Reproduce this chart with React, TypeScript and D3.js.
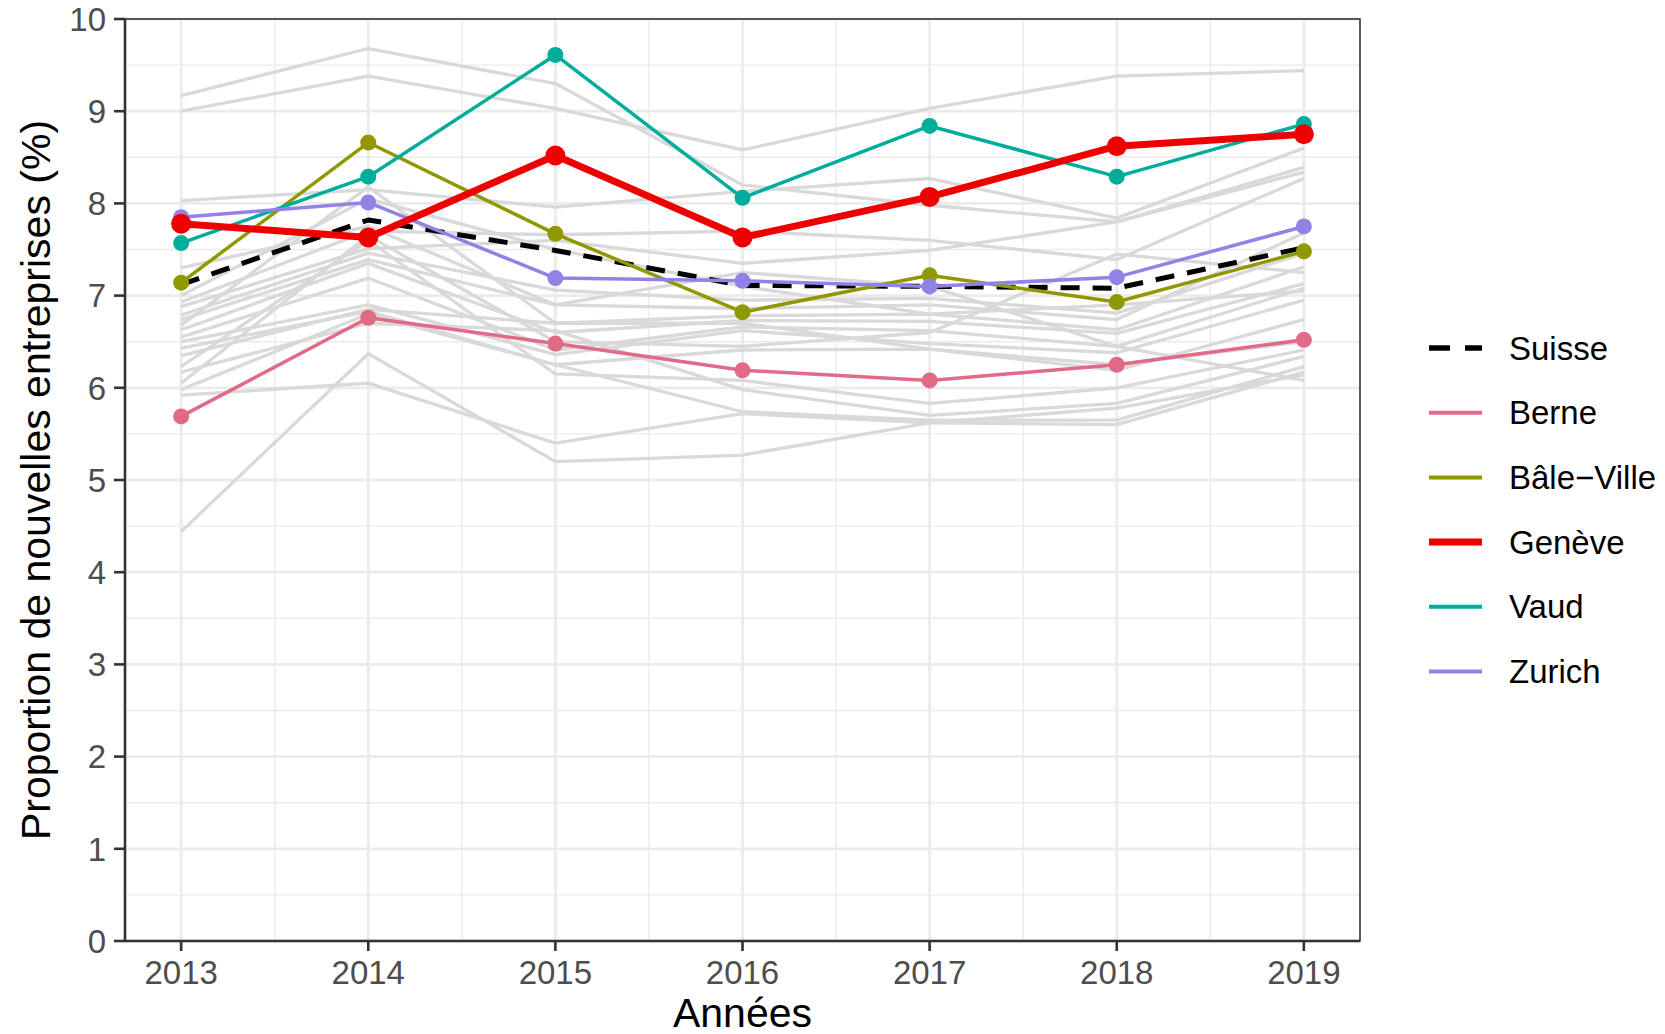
import React from "react";
import * as d3 from "d3";

// ---------- DATA ----------
const years = [2013, 2014, 2015, 2016, 2017, 2018, 2019];
const yTicks = [0, 1, 2, 3, 4, 5, 6, 7, 8, 9, 10];

const suisse = [7.12, 7.82, 7.49, 7.11, 7.10, 7.08, 7.52];
const berne = [5.69, 6.76, 6.48, 6.19, 6.08, 6.25, 6.52];
const baleVille = [7.14, 8.66, 7.67, 6.82, 7.22, 6.93, 7.48];
const geneve = [7.78, 7.63, 8.52, 7.63, 8.07, 8.62, 8.75];
const vaud = [7.57, 8.29, 9.61, 8.06, 8.84, 8.29, 8.86];
const zurich = [7.85, 8.01, 7.19, 7.16, 7.10, 7.20, 7.75];

// other cantons (grey background lines)
const autresCantons = [
  [9.17, 9.68, 9.30, 8.20, 7.98, 7.80, 8.34],
  [9.00, 9.38, 9.03, 8.58, 9.03, 9.38, 9.44],
  [8.03, 8.15, 7.96, 8.13, 8.27, 7.84, 8.60],
  [6.93, 7.70, 7.66, 7.70, 7.60, 7.39, 8.27],
  [6.88, 7.51, 7.60, 7.35, 7.49, 7.80, 8.39],
  [6.79, 7.46, 7.06, 6.95, 6.97, 6.81, 7.46],
  [6.74, 7.39, 6.90, 6.86, 6.90, 6.74, 7.68],
  [6.68, 8.18, 6.70, 6.78, 6.80, 6.63, 7.31],
  [6.63, 7.35, 6.60, 6.73, 6.72, 6.59, 7.13],
  [6.55, 7.19, 6.41, 6.66, 6.62, 6.45, 7.08],
  [6.50, 6.90, 6.36, 6.62, 6.48, 6.38, 6.95],
  [6.43, 6.83, 6.25, 6.41, 6.42, 6.19, 6.74],
  [6.23, 7.60, 6.15, 6.08, 5.83, 6.00, 6.41],
  [6.17, 6.70, 6.62, 5.98, 5.70, 5.83, 6.34],
  [5.98, 6.80, 6.25, 5.74, 5.65, 5.65, 6.23],
  [5.92, 6.05, 5.40, 5.72, 5.62, 5.60, 6.17],
  [4.44, 6.37, 5.20, 5.27, 5.62, 5.78, 6.14],
  [7.30, 7.75, 6.90, 7.25, 7.10, 6.45, 6.08],
  [7.00, 8.05, 7.50, 7.10, 6.80, 6.90, 7.05],
  [6.05, 7.65, 6.50, 6.45, 6.60, 7.45, 7.25],
  [6.35, 6.85, 6.70, 6.70, 6.42, 6.25, 6.50],
];

const seriesNames = ["Suisse", "Berne", "Bâle\u2212Ville", "Genève", "Vaud", "Zurich"];
const seriesColors = ["#000000", "#E16A86", "#909800", "#EE0000", "#00AD9A", "#9183E6"];
const seriesValues = [suisse, berne, baleVille, geneve, vaud, zurich];

const W = 1665;
const H = 1034;
const FONT = "'Liberation Sans', Arial, Helvetica, sans-serif";

export default function App() {
  const left = 125, right = 1360, top = 19, bottom = 941;
  const x = d3.scaleLinear().domain([2012.7, 2019.3]).range([left, right]);
  const y = d3.scaleLinear().domain([0, 10]).range([bottom, top]);

  const line = d3
    .line<number>()
    .x((_, i) => x(years[i]))
    .y((d) => y(d));

  const minorX = d3.range(2012.5, 2019.51, 1).filter((v) => x(v) > left && x(v) < right);
  const minorY = d3.range(0.5, 10, 1);

  const style = (name: string) => {
    if (name === "Suisse") return { w: 5, dash: "19 13", r: 0 };
    if (name === "Genève") return { w: 7, dash: undefined, r: 10 };
    return { w: 3.5, dash: undefined, r: 8 };
  };
  const drawOrder = [0, 1, 2, 4, 5, 3];

  const legendY0 = 348;
  const legendStep = 64.7;

  return (
    <svg
      width={W}
      height={H}
      style={{ position: "absolute", left: 0, top: 0, background: "#fff" }}
      fontFamily={FONT}
    >
      <rect x={0} y={0} width={W} height={H} fill="#fff" />
      {/* grid */}
      <g>
        {minorY.map((v) => (
          <line key={"my" + v} x1={left} x2={right} y1={y(v)} y2={y(v)} stroke="#EBEBEB" strokeWidth={1.4} />
        ))}
        {minorX.map((v) => (
          <line key={"mx" + v} x1={x(v)} x2={x(v)} y1={top} y2={bottom} stroke="#EBEBEB" strokeWidth={1.4} />
        ))}
        {yTicks.map((v) => (
          <line key={"gy" + v} x1={left} x2={right} y1={y(v)} y2={y(v)} stroke="#EBEBEB" strokeWidth={2.8} />
        ))}
        {years.map((v) => (
          <line key={"gx" + v} x1={x(v)} x2={x(v)} y1={top} y2={bottom} stroke="#EBEBEB" strokeWidth={2.8} />
        ))}
      </g>

      {/* grey lines */}
      <g>
        {autresCantons.map((vals, i) => (
          <path key={"g" + i} d={line(vals) || ""} fill="none" stroke="#D9D9D9" strokeWidth={3.3} strokeLinejoin="round" />
        ))}
      </g>

      {/* highlighted */}
      <g>
        {drawOrder.map((k) => {
          const s = style(seriesNames[k]);
          return (
            <g key={"s" + k}>
              <path
                d={line(seriesValues[k]) || ""}
                fill="none"
                stroke={seriesColors[k]}
                strokeWidth={s.w}
                strokeDasharray={s.dash}
                strokeLinejoin="round"
              />
              {s.r > 0 &&
                seriesValues[k].map((v, i) => (
                  <circle key={i} cx={x(years[i])} cy={y(v)} r={s.r} fill={seriesColors[k]} />
                ))}
            </g>
          );
        })}
      </g>

      {/* panel border */}
      <rect x={left} y={top} width={right - left} height={bottom - top} fill="none" stroke="#333333" strokeWidth={1.6} />
      {/* axis lines */}
      <line x1={left} x2={left} y1={top} y2={bottom + 1} stroke="#333333" strokeWidth={2.6} />
      <line x1={left - 1} x2={right} y1={bottom} y2={bottom} stroke="#333333" strokeWidth={2.6} />

      {/* y ticks */}
      {yTicks.map((v) => (
        <g key={"yt" + v}>
          <line x1={left - 11} x2={left} y1={y(v)} y2={y(v)} stroke="#333333" strokeWidth={2.6} />
          <text x={left - 19} y={y(v) + 11.8} textAnchor="end" fontSize={33} fill="#4D4D4D">
            {v}
          </text>
        </g>
      ))}
      {/* x ticks */}
      {years.map((v) => (
        <g key={"xt" + v}>
          <line x1={x(v)} x2={x(v)} y1={bottom} y2={bottom + 10} stroke="#333333" strokeWidth={2.6} />
          <text x={x(v)} y={984} textAnchor="middle" fontSize={33} fill="#4D4D4D">
            {v}
          </text>
        </g>
      ))}

      {/* axis titles */}
      <text x={(left + right) / 2} y={1027} textAnchor="middle" fontSize={41} fill="#000">
        Années
      </text>
      <text
        transform={`translate(50, ${(top + bottom) / 2}) rotate(-90)`}
        textAnchor="middle"
        fontSize={41}
        fill="#000"
      >
        Proportion de nouvelles entreprises (%)
      </text>

      {/* legend */}
      <g>
        {seriesNames.map((n, i) => {
          const ly = legendY0 + i * legendStep;
          return (
            <g key={"lg" + i}>
              <line
                x1={1429}
                x2={1482}
                y1={ly}
                y2={ly}
                stroke={seriesColors[i]}
                strokeWidth={n === "Suisse" ? 5.5 : n === "Genève" ? 7 : 4}
                strokeDasharray={n === "Suisse" ? "21 15" : undefined}
              />
              <text x={1509} y={ly + 11.5} fontSize={33} fill="#000">
                {n}
              </text>
            </g>
          );
        })}
      </g>
    </svg>
  );
}
